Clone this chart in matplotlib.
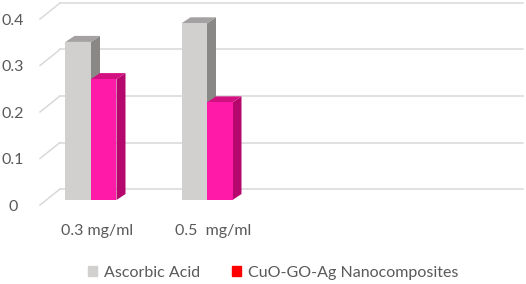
import matplotlib.pyplot as plt
from matplotlib.patches import Polygon, Patch
import numpy as np

categories = ['0.3 mg/ml', '0.5  mg/ml']
ascorbic = [0.34, 0.38]
cuo_go_ag = [0.26, 0.21]
yticks = [0, 0.1, 0.2, 0.3, 0.4]

# colours (front, side, top)
gray = ('#D2CFCF', '#8A8787', '#A3A1A1')
pink = ('#FF1AA8', '#B5076C', '#D3107F')
legend_red = '#FF0000'
text_col = '#595959'
grid_col = '#D9D9D9'

plt.rcParams['font.family'] = ['Lato', 'DejaVu Sans']

W, H = 526, 284
fig = plt.figure(figsize=(W / 100, H / 100), dpi=100)
ax = fig.add_axes([0, 0, 1, 1])

# 1 x-unit = 116 px (category spacing), 0.1 y-unit = 46.5 px
px_x = 1 / 116
px_y = 0.1 / 46.5
ax.set_xlim(-91 * px_x, (W - 91) * px_x)
ax.set_ylim(-(H - 200) * px_y, 200 * px_y)
ax.axis('off')

bar_w = 25.5 * px_x
bar_dx, bar_dy = 9 * px_x, 6 * px_y    # bar depth
wall_x0, wall_x1 = -31 * px_x, 432 * px_x
wall_dy = 11 * px_y                     # bar plane -> back wall
front_x, front_dy = -51 * px_x, -5 * px_y

# back wall gridlines and side diagonals
for v in yticks:
    ax.plot([wall_x0, wall_x1], [v + wall_dy, v + wall_dy],
            color=grid_col, lw=1.1, zorder=1)
    ax.plot([front_x, wall_x0], [v + front_dy, v + wall_dy],
            color=grid_col, lw=1.1, zorder=1)
    ax.text(-78 * px_x, v + front_dy - 2 * px_y, f'{v:g}',
            ha='center', va='center', fontsize=11.5, color=text_col)


def draw_bar(x0, h, cols, z):
    front, side, top = cols
    ax.bar(x0, h, width=bar_w, align='edge', color=front, lw=0, zorder=z)
    x1 = x0 + bar_w
    ax.add_patch(Polygon([(x1, 0), (x1 + bar_dx, bar_dy), (x1 + bar_dx, h + bar_dy), (x1, h)],
                         closed=True, fc=side, lw=0, zorder=z - 0.5))
    ax.add_patch(Polygon([(x0, h), (x0 + bar_dx, h + bar_dy), (x1 + bar_dx, h + bar_dy), (x1, h)],
                         closed=True, fc=top, lw=0, zorder=z - 0.5))


xs = np.arange(len(categories))
for i, x in enumerate(xs):
    draw_bar(x - bar_w, ascorbic[i], gray, 3)
    draw_bar(x, cuo_go_ag[i], pink, 5)
    ax.text(x + 6 * px_x, -31 * px_y, categories[i], ha='center', va='center',
            fontsize=11.5, color=text_col)

handles = [Patch(color=gray[0], label='Ascorbic Acid'),
           Patch(color=legend_red, label='CuO-GO-Ag Nanocomposites')]
fig.legend(handles=handles, loc='center', bbox_to_anchor=(273 / W, 1 - 273 / H),
           ncol=2, frameon=False, fontsize=11.5, labelcolor=text_col,
           handlelength=0.6, handleheight=0.6, handletextpad=0.4, columnspacing=2.0)

fig.savefig('out.png', dpi=100)
